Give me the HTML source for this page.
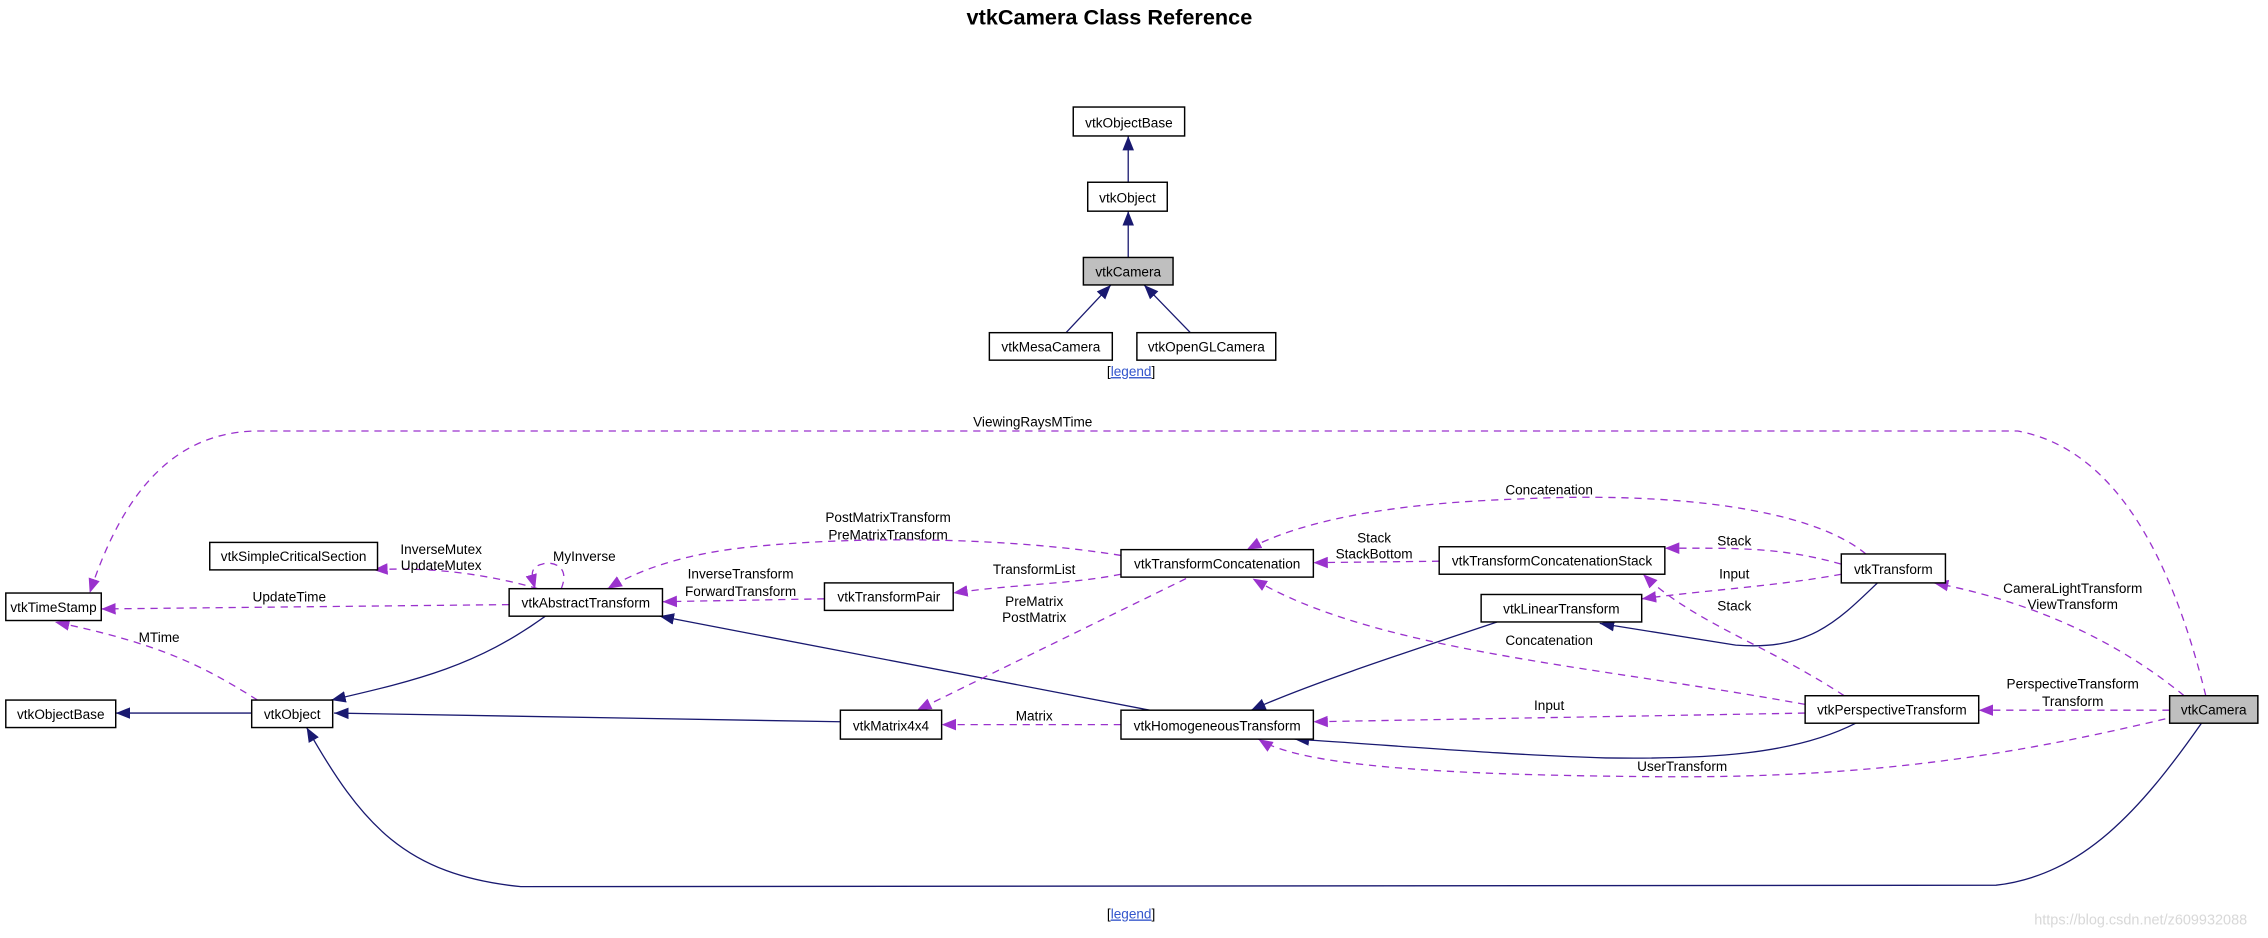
<!DOCTYPE html>
<html><head><meta charset="utf-8"><style>
html,body{margin:0;padding:0;background:#fff;}
svg{display:block}
text{font-family:"Liberation Sans",Arial,sans-serif;font-size:9.4px;fill:#000}
</style></head><body>
<svg width="2268" height="938" viewBox="0 0 1568 648.5" xmlns="http://www.w3.org/2000/svg">
<defs>
<marker id="an" markerUnits="userSpaceOnUse" markerWidth="10" markerHeight="10" viewBox="0 0 10 10" refX="10" refY="5" orient="auto"><path d="M0,1 L10,5 L0,9 Z" fill="#191970"/></marker>
<marker id="ap" markerUnits="userSpaceOnUse" markerWidth="10" markerHeight="10" viewBox="0 0 10 10" refX="10" refY="5" orient="auto"><path d="M0,1 L10,5 L0,9 Z" fill="#9a32cd"/></marker>
</defs>
<text x="767" y="17" text-anchor="middle" style="font-size:15px;font-weight:bold">vtkCamera Class Reference</text>

<g fill="none" stroke="#191970" stroke-width="0.9">
<path d="M780,126 L780,94" marker-end="url(#an)"/>
<path d="M780,178 L780,146" marker-end="url(#an)"/>
<path d="M737,230 L768,197" marker-end="url(#an)"/>
<path d="M823,230 L791,197" marker-end="url(#an)"/>
</g>
<g stroke="#000" stroke-width="1">
<rect x="742" y="74" width="77" height="20" fill="#fff"/>
<rect x="752" y="126" width="55" height="20" fill="#fff"/>
<rect x="749" y="178" width="62" height="19" fill="#bfbfbf"/>
<rect x="684" y="230" width="85" height="19" fill="#fff"/>
<rect x="786" y="230" width="96" height="19" fill="#fff"/>
</g>
<g text-anchor="middle">
<text x="780.5" y="88">vtkObjectBase</text>
<text x="779.5" y="140">vtkObject</text>
<text x="780" y="191">vtkCamera</text>
<text x="726.5" y="243">vtkMesaCamera</text>
<text x="834" y="243">vtkOpenGLCamera</text>
</g>
<text x="782" y="260" text-anchor="middle"><tspan>[</tspan><tspan style="fill:#3355cc" text-decoration="underline">legend</tspan><tspan>]</tspan></text>

<g fill="none" stroke="#191970" stroke-width="0.9">
<path d="M174,493 L80,493" marker-end="url(#an)"/>
<path d="M377,426 C330,460 290,470 229,484" marker-end="url(#an)"/>
<path d="M581,499 L231,493" marker-end="url(#an)"/>
<path d="M795,491 L456,426" marker-end="url(#an)"/>
<path d="M1035,430 C960,455 900,475 865,491" marker-end="url(#an)"/>
<path d="M1298,403 C1270,430 1250,450 1200,446 L1106,431" marker-end="url(#an)"/>
<path d="M1283,500 C1240,522 1180,525 1110,524 C1040,522 960,515 895,511" marker-end="url(#an)"/>
<path d="M1522,500 C1480,560 1440,605 1380,612 L360,613 C280,605 250,570 212,503" marker-end="url(#an)"/>
</g>
<g fill="none" stroke="#9a32cd" stroke-width="0.9" stroke-dasharray="5,4">
<path d="M1525,481 C1500,380 1460,310 1395,298 L175,298 C120,300 85,340 62,410" marker-end="url(#ap)"/>
<path d="M178,484 C140,460 110,445 38,430" marker-end="url(#ap)"/>
<path d="M352,418 L70,421" marker-end="url(#ap)"/>
<path d="M372,407 C330,395 290,392 258,394" marker-end="url(#ap)"/>
<path d="M388,407 C395,390 380,388 375,390 C365,392 368,400 370,407" marker-end="url(#ap)"/>
<path d="M775,384 C700,372 600,370 520,378 C470,383 440,395 420,407" marker-end="url(#ap)"/>
<path d="M570,414 L458,416" marker-end="url(#ap)"/>
<path d="M775,397 C740,404 700,404 659,410" marker-end="url(#ap)"/>
<path d="M820,400 L634,491" marker-end="url(#ap)"/>
<path d="M775,501 L651,501" marker-end="url(#ap)"/>
<path d="M1290,383 C1250,350 1150,340 1050,345 C960,348 900,360 862,380" marker-end="url(#ap)"/>
<path d="M995,388 L908,389" marker-end="url(#ap)"/>
<path d="M1273,390 C1230,378 1200,379 1151,379" marker-end="url(#ap)"/>
<path d="M1273,397 C1230,405 1180,408 1135,414" marker-end="url(#ap)"/>
<path d="M1275,481 C1220,445 1170,430 1136,397" marker-end="url(#ap)"/>
<path d="M1248,487 C1100,460 950,450 866,400" marker-end="url(#ap)"/>
<path d="M1248,493 L908,499" marker-end="url(#ap)"/>
<path d="M1510,481 C1460,440 1400,415 1337,403" marker-end="url(#ap)"/>
<path d="M1500,491 L1368,491" marker-end="url(#ap)"/>
<path d="M1497,497 C1400,520 1300,538 1150,537 C1000,536 900,530 870,511" marker-end="url(#ap)"/>
</g>
<g stroke="#000" stroke-width="1" fill="#fff">
<rect x="4" y="410" width="66" height="19"/>
<rect x="4" y="484" width="76" height="19"/>
<rect x="174" y="484" width="56" height="19"/>
<rect x="145" y="375" width="116" height="19"/>
<rect x="352" y="407" width="106" height="19"/>
<rect x="570" y="403" width="89" height="19"/>
<rect x="581" y="491" width="70" height="20"/>
<rect x="775" y="380" width="133" height="19"/>
<rect x="775" y="491" width="133" height="20"/>
<rect x="995" y="378" width="156" height="19"/>
<rect x="1024" y="411" width="111" height="19"/>
<rect x="1273" y="383" width="72" height="20"/>
<rect x="1248" y="481" width="120" height="19"/>
<rect x="1500" y="481" width="61" height="19" fill="#bfbfbf"/>
</g>
<g text-anchor="middle">
<text x="37" y="423">vtkTimeStamp</text>
<text x="42" y="497">vtkObjectBase</text>
<text x="202" y="497">vtkObject</text>
<text x="203" y="388">vtkSimpleCriticalSection</text>
<text x="405" y="420">vtkAbstractTransform</text>
<text x="614.5" y="416">vtkTransformPair</text>
<text x="616" y="505">vtkMatrix4x4</text>
<text x="841.5" y="393">vtkTransformConcatenation</text>
<text x="841.5" y="505">vtkHomogeneousTransform</text>
<text x="1073" y="391">vtkTransformConcatenationStack</text>
<text x="1079.5" y="424">vtkLinearTransform</text>
<text x="1309" y="397">vtkTransform</text>
<text x="1308" y="494">vtkPerspectiveTransform</text>
<text x="1530.5" y="494">vtkCamera</text>
<text x="714" y="295">ViewingRaysMTime</text>
<text x="110" y="444">MTime</text>
<text x="200" y="416">UpdateTime</text>
<text x="305" y="383">InverseMutex</text>
<text x="305" y="394">UpdateMutex</text>
<text x="404" y="388">MyInverse</text>
<text x="614" y="361">PostMatrixTransform</text>
<text x="614" y="373">PreMatrixTransform</text>
<text x="512" y="400">InverseTransform</text>
<text x="512" y="412">ForwardTransform</text>
<text x="715" y="397">TransformList</text>
<text x="715" y="419">PreMatrix</text>
<text x="715" y="430">PostMatrix</text>
<text x="715" y="498">Matrix</text>
<text x="1071" y="342">Concatenation</text>
<text x="950" y="375">Stack</text>
<text x="950" y="386">StackBottom</text>
<text x="1199" y="377">Stack</text>
<text x="1199" y="400">Input</text>
<text x="1199" y="422">Stack</text>
<text x="1071" y="446">Concatenation</text>
<text x="1071" y="491">Input</text>
<text x="1433" y="410">CameraLightTransform</text>
<text x="1433" y="421">ViewTransform</text>
<text x="1433" y="476">PerspectiveTransform</text>
<text x="1433" y="488">Transform</text>
<text x="1163" y="533">UserTransform</text>
</g>
<text x="782" y="635" text-anchor="middle"><tspan>[</tspan><tspan style="fill:#3355cc" text-decoration="underline">legend</tspan><tspan>]</tspan></text>
<text x="1480" y="639" text-anchor="middle" style="fill:#d8d8d8;font-size:10px">https://blog.csdn.net/z609932088</text>
</svg>
</body></html>
